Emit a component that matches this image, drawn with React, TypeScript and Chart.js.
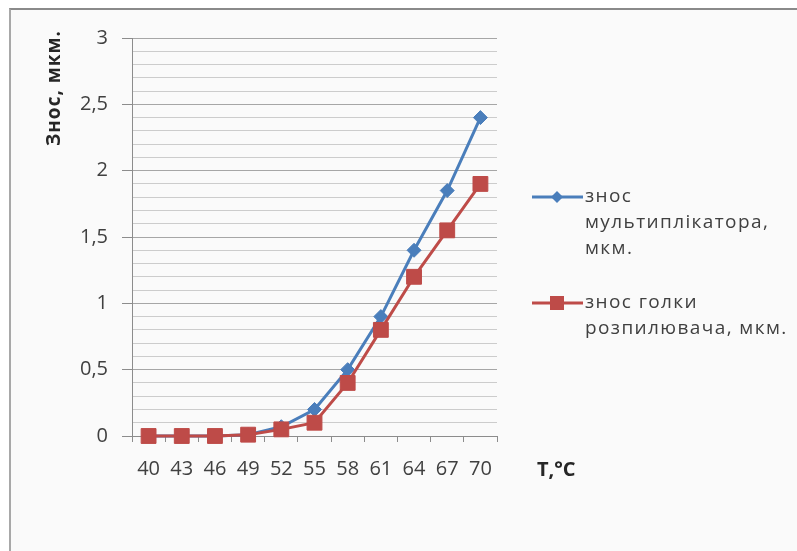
import React, { useEffect, useRef } from "react";
import { Chart, registerables } from "chart.js";

Chart.register(...registerables);

const temperatures = ["40", "43", "46", "49", "52", "55", "58", "61", "64", "67", "70"];
const multiplierWear = [0, 0, 0, 0.01, 0.07, 0.2, 0.5, 0.9, 1.4, 1.85, 2.4];
const needleWear = [0, 0, 0, 0.01, 0.05, 0.1, 0.4, 0.8, 1.2, 1.55, 1.9];
const seriesLegendLines = [
  ["знос", "мультиплікатора,", "мкм."],
  ["знос голки", "розпилювача, мкм."],
];
const seriesNames = ["знос мультиплікатора, мкм.", "знос голки розпилювача, мкм."];
const yTitle = "Знос, мкм.";
const xTitle = "T,°C";

const BLUE = "#4a7ebb";
const RED = "#be4b48";
const FONT = "'Open Sans', 'Noto Sans', sans-serif";

const annotations = {
  id: "annotations",
  afterDraw(chart: any) {
    const ctx = chart.ctx as any;
    // Y title
    ctx.save();
    ctx.fillStyle = "#262626";
    ctx.font = `bold 19px ${FONT}`;
    ctx.letterSpacing = "1px";
    ctx.translate(55, 88);
    ctx.rotate(-Math.PI / 2);
    ctx.textAlign = "center";
    ctx.textBaseline = "middle";
    ctx.fillText(yTitle, 0, 0);
    ctx.restore();
    // X title
    ctx.save();
    ctx.fillStyle = "#262626";
    ctx.font = `bold 20px ${FONT}`;
    ctx.textAlign = "left";
    ctx.textBaseline = "middle";
    ctx.fillText(xTitle, 537, 470);
    ctx.restore();
    // Legend
    const starts = [197, 303];
    chart.data.datasets.forEach((ds: any, i: number) => {
      const y0 = starts[i];
      ctx.save();
      ctx.strokeStyle = ds.borderColor;
      ctx.lineWidth = 3;
      ctx.beginPath();
      ctx.moveTo(532, y0);
      ctx.lineTo(583, y0);
      ctx.stroke();
      ctx.fillStyle = ds.borderColor;
      ctx.beginPath();
      if (ds.pointStyle === "rectRot") {
        const r = 6;
        ctx.moveTo(557, y0 - r);
        ctx.lineTo(557 + r, y0);
        ctx.lineTo(557, y0 + r);
        ctx.lineTo(557 - r, y0);
        ctx.closePath();
      } else {
        ctx.rect(557 - 7, y0 - 7, 14, 14);
      }
      ctx.fill();
      ctx.fillStyle = "#404040";
      ctx.font = `19px ${FONT}`;
      ctx.letterSpacing = "1.4px";
      ctx.textAlign = "left";
      ctx.textBaseline = "middle";
      seriesLegendLines[i].forEach((line, k) => {
        ctx.fillText(line, 585, y0 + k * 26);
      });
      ctx.restore();
    });
  },
};

export default function App() {
  const ref = useRef<HTMLCanvasElement | null>(null);
  useEffect(() => {
    if (!ref.current) return;
    const isMajor = (v: number) => Math.abs(v * 2 - Math.round(v * 2)) < 1e-6;
    const chart = new Chart(ref.current, {
      type: "line",
      data: {
        labels: temperatures,
        datasets: [
          {
            label: seriesNames[0],
            data: multiplierWear,
            borderColor: BLUE,
            backgroundColor: BLUE,
            borderWidth: 3,
            pointStyle: "rectRot",
            pointRadius: 7,
            pointBorderWidth: 1,
            pointBorderColor: BLUE,
            pointBackgroundColor: BLUE,
            tension: 0,
            order: 1,
            clip: false,
          },
          {
            label: seriesNames[1],
            data: needleWear,
            borderColor: RED,
            backgroundColor: RED,
            borderWidth: 3,
            pointStyle: "rect",
            pointRadius: 10.5,
            pointBorderWidth: 1,
            pointBorderColor: RED,
            pointBackgroundColor: RED,
            tension: 0,
            order: 0,
            clip: false,
          },
        ],
      },
      options: {
        responsive: false,
        animation: false,
        devicePixelRatio: 1,
        layout: { padding: { top: 38, right: 300, bottom: 0, left: 0 } },
        plugins: { legend: { display: false }, tooltip: { enabled: false } },
        scales: {
          x: {
            type: "category",
            offset: true,
            afterFit: (s: any) => {
              s.height = 551 - 436;
            },
            grid: {
              offset: true,
              drawOnChartArea: false,
              drawTicks: true,
              tickLength: 6,
              tickColor: "#8c8c8c",
            },
            border: { display: true, color: "#8c8c8c", width: 1 },
            ticks: {
              color: "#404040",
              font: { family: FONT, size: 20 },
              padding: 15,
              maxRotation: 0,
              autoSkip: false,
            },
          },
          y: {
            min: 0,
            max: 3,
            afterFit: (s: any) => {
              s.width = 132;
            },
            ticks: {
              stepSize: 0.1,
              autoSkip: false,
              color: "#404040",
              font: { family: FONT, size: 20 },
              padding: 14,
              callback: (v: any) => {
                const n = Number(v);
                if (!isMajor(n)) return "";
                return String(Math.round(n * 2) / 2).replace(".", ",");
              },
            },
            grid: {
              color: (c: any) => (isMajor(c.tick?.value ?? 0) ? "#a6a6a6" : "#cccccc"),
              tickColor: (c: any) => (isMajor(c.tick?.value ?? 0) ? "#8c8c8c" : "rgba(0,0,0,0)"),
              tickLength: 10,
              lineWidth: 1,
            },
            border: { display: true, color: "#8c8c8c", width: 1 },
          },
        },
      },
      plugins: [annotations],
    });
    return () => chart.destroy();
  }, []);

  return (
    <>
      <div
        style={{
          position: "fixed",
          left: 9,
          top: 8,
          width: 820,
          height: 600,
          borderTop: "2px solid #8a8a8a",
          borderLeft: "2px solid #a8a8a8",
          background: "#fafafa",
        }}
      />
      <canvas
        ref={ref}
        width={797}
        height={551}
        style={{ position: "fixed", left: 0, top: 0, width: 797, height: 551 }}
      />
    </>
  );
}
